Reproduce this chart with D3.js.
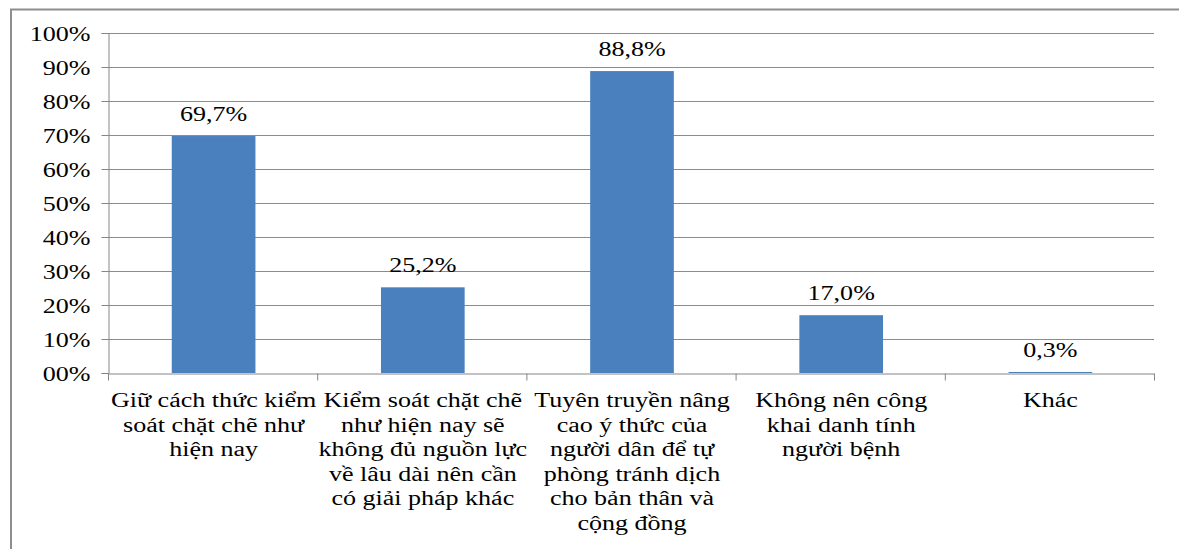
<!DOCTYPE html>
<html>
<head>
<meta charset="utf-8">
<script src="https://cdn.jsdelivr.net/npm/d3@7"></script>
<style>
  html, body { margin: 0; padding: 0; background: #fff; }
  svg { display: block; }
</style>
</head>
<body>
<svg id="chart" width="1179" height="549"></svg>
<script>
// Response categories (each entry is a list of wrapped lines)
const categories = [
  ["Giữ cách thức kiểm", "soát chặt chẽ như", "hiện nay"],
  ["Kiểm soát chặt chẽ", "như hiện nay sẽ", "không đủ nguồn lực", "về lâu dài nên cần", "có giải pháp khác"],
  ["Tuyên truyền nâng", "cao ý thức của", "người dân để tự", "phòng tránh dịch", "cho bản thân và", "cộng đồng"],
  ["Không nên công", "khai danh tính", "người bệnh"],
  ["Khác"]
];
// Share of respondents, percent
const values = [69.7, 25.2, 88.8, 17.0, 0.3];
const valueLabels = ["69,7%", "25,2%", "88,8%", "17,0%", "0,3%"];
const yTickValues = [0, 10, 20, 30, 40, 50, 60, 70, 80, 90, 100];
const yTickLabels = ["00%", "10%", "20%", "30%", "40%", "50%", "60%", "70%", "80%", "90%", "100%"];

const svg = d3.select("#chart");
const plotLeft = 108, plotRight = 1154, plotTop = 33, plotBottom = 373;
const sx = 1.27; // horizontal text stretch
const fontSize = 20.5;
const serif = "Liberation Serif";

// outer frame (left and top edges)
svg.append("path")
  .attr("d", "M11,549V9.5H1179")
  .attr("fill", "none")
  .attr("stroke", "#8e8e8e")
  .attr("stroke-width", 2);

const keys = categories.map((c, i) => i);
const x = d3.scaleBand().domain(keys).range([plotLeft, plotRight])
  .paddingInner(0.6).paddingOuter(0.3);
const xEdges = d3.scaleLinear().domain([0, categories.length]).range([plotLeft, plotRight]);
const y = d3.scaleLinear().domain([0, 100]).range([plotBottom, plotTop]);

// gridlines
svg.append("g")
  .selectAll("line")
  .data(yTickValues.filter(d => d > 0))
  .join("line")
  .attr("x1", plotLeft).attr("x2", plotRight)
  .attr("y1", d => Math.round(y(d)) + 0.5).attr("y2", d => Math.round(y(d)) + 0.5)
  .attr("stroke", "#8c8c8c").attr("stroke-width", 1);

// bars
svg.append("g")
  .selectAll("rect")
  .data(values)
  .join("rect")
  .attr("x", (d, i) => x(i) + 1)
  .attr("width", x.bandwidth())
  .attr("y", d => y(d))
  .attr("height", d => plotBottom - y(d))
  .attr("fill", "#4a80bd");

// y axis
const yAxis = svg.append("g")
  .attr("transform", `translate(${plotLeft + 0.5},0)`)
  .call(d3.axisLeft(y).tickValues(yTickValues).tickFormat((d, i) => yTickLabels[i]).tickSize(7));
yAxis.attr("font-family", serif);
yAxis.select(".domain").attr("stroke", "#868686");
yAxis.selectAll(".tick line").attr("stroke", "#868686");
yAxis.selectAll(".tick text")
  .attr("x", null).attr("dy", null)
  .attr("font-size", fontSize)
  .attr("font-family", serif)
  .attr("fill", "#000")
  .attr("text-anchor", "end")
  .attr("transform", `translate(-18,7) scale(${sx},1)`);

// x axis with ticks on category boundaries
const xAxis = svg.append("g")
  .attr("transform", `translate(0,${plotBottom + 0.5})`)
  .call(d3.axisBottom(xEdges).ticks(categories.length).tickFormat("").tickSize(7).tickSizeOuter(0));
xAxis.select(".domain").attr("stroke", "#868686");
xAxis.selectAll(".tick line").attr("stroke", "#868686");

// value labels
svg.append("g")
  .selectAll("text")
  .data(values)
  .join("text")
  .attr("transform", (d, i) => `translate(${x(i) + x.bandwidth() / 2 + 1},${y(d) - 15}) scale(${sx},1)`)
  .attr("text-anchor", "middle")
  .attr("font-family", serif)
  .attr("font-size", fontSize)
  .attr("fill", "#000")
  .text((d, i) => valueLabels[i]);

// category labels
const catG = svg.append("g")
  .selectAll("g")
  .data(categories)
  .join("g")
  .attr("transform", (d, i) => `translate(${x(i) + x.bandwidth() / 2 + 1},407)`);
catG.selectAll("text")
  .data(d => d)
  .join("text")
  .attr("transform", (d, j) => `translate(0,${j * 24.5}) scale(${sx},1)`)
  .attr("text-anchor", "middle")
  .attr("font-family", serif)
  .attr("font-size", fontSize)
  .attr("fill", "#000")
  .text(d => d);
</script>
</body>
</html>
